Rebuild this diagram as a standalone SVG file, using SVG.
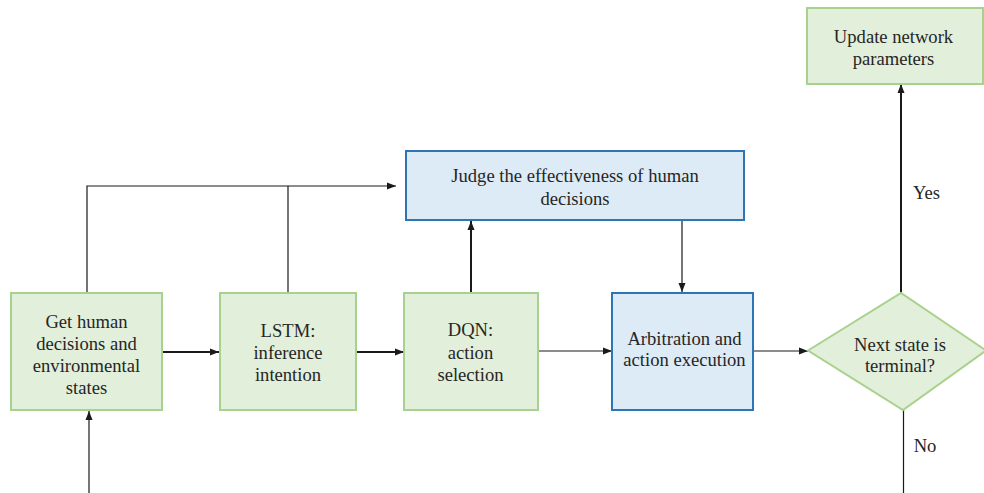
<svg xmlns="http://www.w3.org/2000/svg" width="984" height="493" viewBox="0 0 984 493">
<style>
text{font-family:"Liberation Serif","Times New Roman",serif;font-size:18.6px;fill:#262626;text-anchor:middle}
.g{fill:#e2efda;stroke:#a9d18e;stroke-width:2}
.b{fill:#ddebf7;stroke:#2e75b6;stroke-width:2}
.c{fill:none;stroke:#1a1a1a}
.t{stroke-width:2}
.n{stroke-width:1.2}
</style>
<defs>
<marker id="ah" markerUnits="userSpaceOnUse" markerWidth="10" markerHeight="8" refX="9" refY="4" orient="auto">
<path d="M0,0.5 L9,4 L0,7.5 Z" fill="#1a1a1a"/>
</marker>
</defs>
<rect width="984" height="493" fill="#fff"/>
<g id="connectors">
<path class="c n" d="M87 292 V186 H396" marker-end="url(#ah)"/>
<path class="c n" d="M288 292 V186" stroke="#555"/>
<path class="c t" d="M162 352 H219" marker-end="url(#ah)"/>
<path class="c t" d="M356 352 H404" marker-end="url(#ah)"/>
<path class="c n" d="M538 351 H612" marker-end="url(#ah)"/>
<path class="c n" d="M753 351 H808" marker-end="url(#ah)"/>
<path class="c t" d="M471 292 V221" marker-end="url(#ah)"/>
<path class="c n" d="M682 221 V292" marker-end="url(#ah)"/>
<path class="c t" d="M901 293 V84" marker-end="url(#ah)"/>
<path class="c n" d="M903.5 410 V493"/>
<path class="c n" d="M89 493 V411" marker-end="url(#ah)"/>
</g>
<g id="get-human">
<rect class="g" x="11" y="293" width="151" height="117"/>
<text x="86.5" y="327.5">Get human</text>
<text x="86.5" y="349.5">decisions and</text>
<text x="86.5" y="371.5">environmental</text>
<text x="86.5" y="393.5">states</text>
</g>
<g id="lstm">
<rect class="g" x="220" y="293" width="136" height="117"/>
<text x="288" y="337">LSTM:</text>
<text x="288" y="359">inference</text>
<text x="288" y="381">intention</text>
</g>
<g id="dqn">
<rect class="g" x="404" y="293" width="134" height="117"/>
<text x="470.5" y="336">DQN:</text>
<text x="470.5" y="358.5">action</text>
<text x="470.5" y="380.5">selection</text>
</g>
<g id="arbitration">
<rect class="b" x="612" y="293" width="141" height="117"/>
<text x="684.5" y="344.5">Arbitration and</text>
<text x="684.5" y="366">action execution</text>
</g>
<g id="judge">
<rect class="b" x="406" y="151" width="338" height="69"/>
<text x="575" y="182">Judge the effectiveness of human</text>
<text x="575" y="204.5">decisions</text>
</g>
<g id="update">
<rect class="g" x="807" y="8" width="176" height="76"/>
<text x="893.5" y="42.5">Update network</text>
<text x="893.5" y="65">parameters</text>
</g>
<g id="terminal">
<polygon class="g" points="808,350.5 901,293 986,350.5 903,410"/>
<text x="900" y="350.5">Next state is</text>
<text x="900" y="372">terminal?</text>
</g>
<g id="labels">
<text x="926.5" y="198.5">Yes</text>
<text x="925" y="452">No</text>
</g>
</svg>
